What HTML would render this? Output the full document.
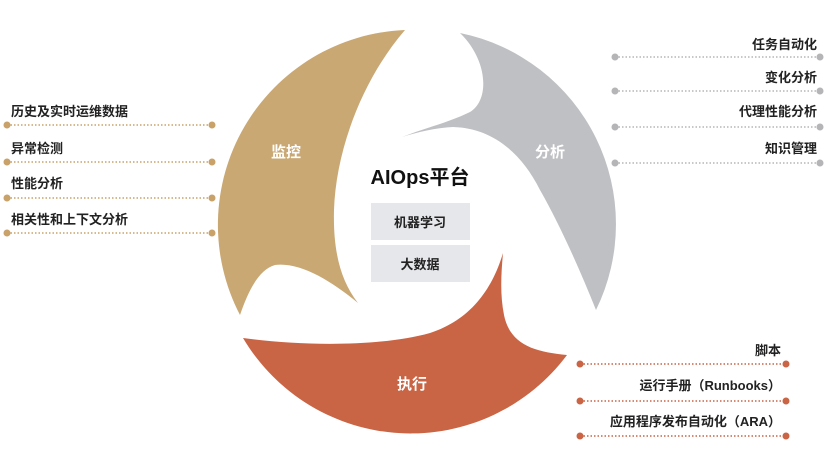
<!DOCTYPE html>
<html><head><meta charset="utf-8"><style>
html,body{margin:0;padding:0;background:#fff;}
body{width:837px;height:452px;overflow:hidden;position:relative;font-family:"Liberation Sans","Noto Sans CJK SC",sans-serif;}
svg{position:absolute;left:0;top:0;}
</style></head><body>
<svg width="837" height="452" viewBox="0 0 837 452" xmlns="http://www.w3.org/2000/svg">
<!-- gold blade -->
<path d="M405,30 A195,195 0 0 0 240,315 C248,292 258,270 275,265 C300,262 330,280 358,303 C340,280 333,250 334,210 C336,150 362,80 405,30 Z" fill="#c9a874"/>
<!-- gray blade -->
<path d="M460,33 A195,195 0 0 1 596,310 C580,270 560,225 540,190 C520,150 490,128 453,127 C435,128 418,132 402,137 C425,128 450,122 470,112 C490,100 488,60 460,33 Z" fill="#bfc0c3"/>
<!-- red blade -->
<path d="M243,338 A195,195 0 0 0 567,355 C535,352 510,345 504,315 C500,295 501,275 503,253 C492,290 470,320 430,333 C380,347 300,346 243,338 Z" fill="#c96445"/>
<g font-family="Liberation Sans,Noto Sans CJK SC,sans-serif" font-weight="bold" fill="#fff" font-size="15" text-anchor="middle">
<text x="286" y="157">监控</text>
<text x="550" y="157">分析</text>
<text x="412" y="389">执行</text>
</g>
<text x="420" y="184" text-anchor="middle" font-size="20" font-weight="bold" fill="#111" font-family="Liberation Sans,Noto Sans CJK SC,sans-serif">AIOps平台</text>
<rect x="371" y="203" width="99" height="37" fill="#e6e7ea"/>
<rect x="371" y="245" width="99" height="37" fill="#e6e7ea"/>
<g font-size="13" font-weight="bold" fill="#222" text-anchor="middle" font-family="Liberation Sans,Noto Sans CJK SC,sans-serif">
<text x="420" y="227">机器学习</text>
<text x="420" y="269">大数据</text>
</g>
<g stroke="#c9a26a" stroke-width="1.5" stroke-dasharray="1.5 2">
<line x1="7" y1="125" x2="212" y2="125"/><line x1="7" y1="162" x2="212" y2="162"/>
<line x1="7" y1="198" x2="212" y2="198"/><line x1="7" y1="233" x2="212" y2="233"/>
</g>
<g fill="#c9a26a">
<circle cx="7" cy="125" r="3.5"/><circle cx="212" cy="125" r="3.5"/>
<circle cx="7" cy="162" r="3.5"/><circle cx="212" cy="162" r="3.5"/>
<circle cx="7" cy="198" r="3.5"/><circle cx="212" cy="198" r="3.5"/>
<circle cx="7" cy="233" r="3.5"/><circle cx="212" cy="233" r="3.5"/>
</g>
<g font-size="13" font-weight="bold" fill="#222" font-family="Liberation Sans,Noto Sans CJK SC,sans-serif">
<text x="11" y="116">历史及实时运维数据</text>
<text x="11" y="153">异常检测</text>
<text x="11" y="188">性能分析</text>
<text x="11" y="224">相关性和上下文分析</text>
</g>
<g stroke="#b5b5b8" stroke-width="1.5" stroke-dasharray="1.5 2">
<line x1="615" y1="57" x2="820" y2="57"/><line x1="615" y1="91" x2="820" y2="91"/>
<line x1="615" y1="127" x2="820" y2="127"/><line x1="615" y1="163" x2="820" y2="163"/>
</g>
<g fill="#b5b5b8">
<circle cx="615" cy="57" r="3.5"/><circle cx="820" cy="57" r="3.5"/>
<circle cx="615" cy="91" r="3.5"/><circle cx="820" cy="91" r="3.5"/>
<circle cx="615" cy="127" r="3.5"/><circle cx="820" cy="127" r="3.5"/>
<circle cx="615" cy="163" r="3.5"/><circle cx="820" cy="163" r="3.5"/>
</g>
<g font-size="13" font-weight="bold" fill="#222" text-anchor="end" font-family="Liberation Sans,Noto Sans CJK SC,sans-serif">
<text x="817" y="49">任务自动化</text>
<text x="817" y="82">变化分析</text>
<text x="817" y="116">代理性能分析</text>
<text x="817" y="153">知识管理</text>
</g>
<g stroke="#c96445" stroke-width="1.5" stroke-dasharray="1.5 2">
<line x1="580" y1="364" x2="786" y2="364"/><line x1="580" y1="401" x2="786" y2="401"/>
<line x1="580" y1="436" x2="786" y2="436"/>
</g>
<g fill="#c96445">
<circle cx="580" cy="364" r="3.5"/><circle cx="786" cy="364" r="3.5"/>
<circle cx="580" cy="401" r="3.5"/><circle cx="786" cy="401" r="3.5"/>
<circle cx="580" cy="436" r="3.5"/><circle cx="786" cy="436" r="3.5"/>
</g>
<g font-size="13" font-weight="bold" fill="#222" text-anchor="end" font-family="Liberation Sans,Noto Sans CJK SC,sans-serif">
<text x="781" y="355">脚本</text>
<text x="781" y="390">运行手册（Runbooks）</text>
<text x="781" y="426">应用程序发布自动化（ARA）</text>
</g>
</svg>
</body></html>
